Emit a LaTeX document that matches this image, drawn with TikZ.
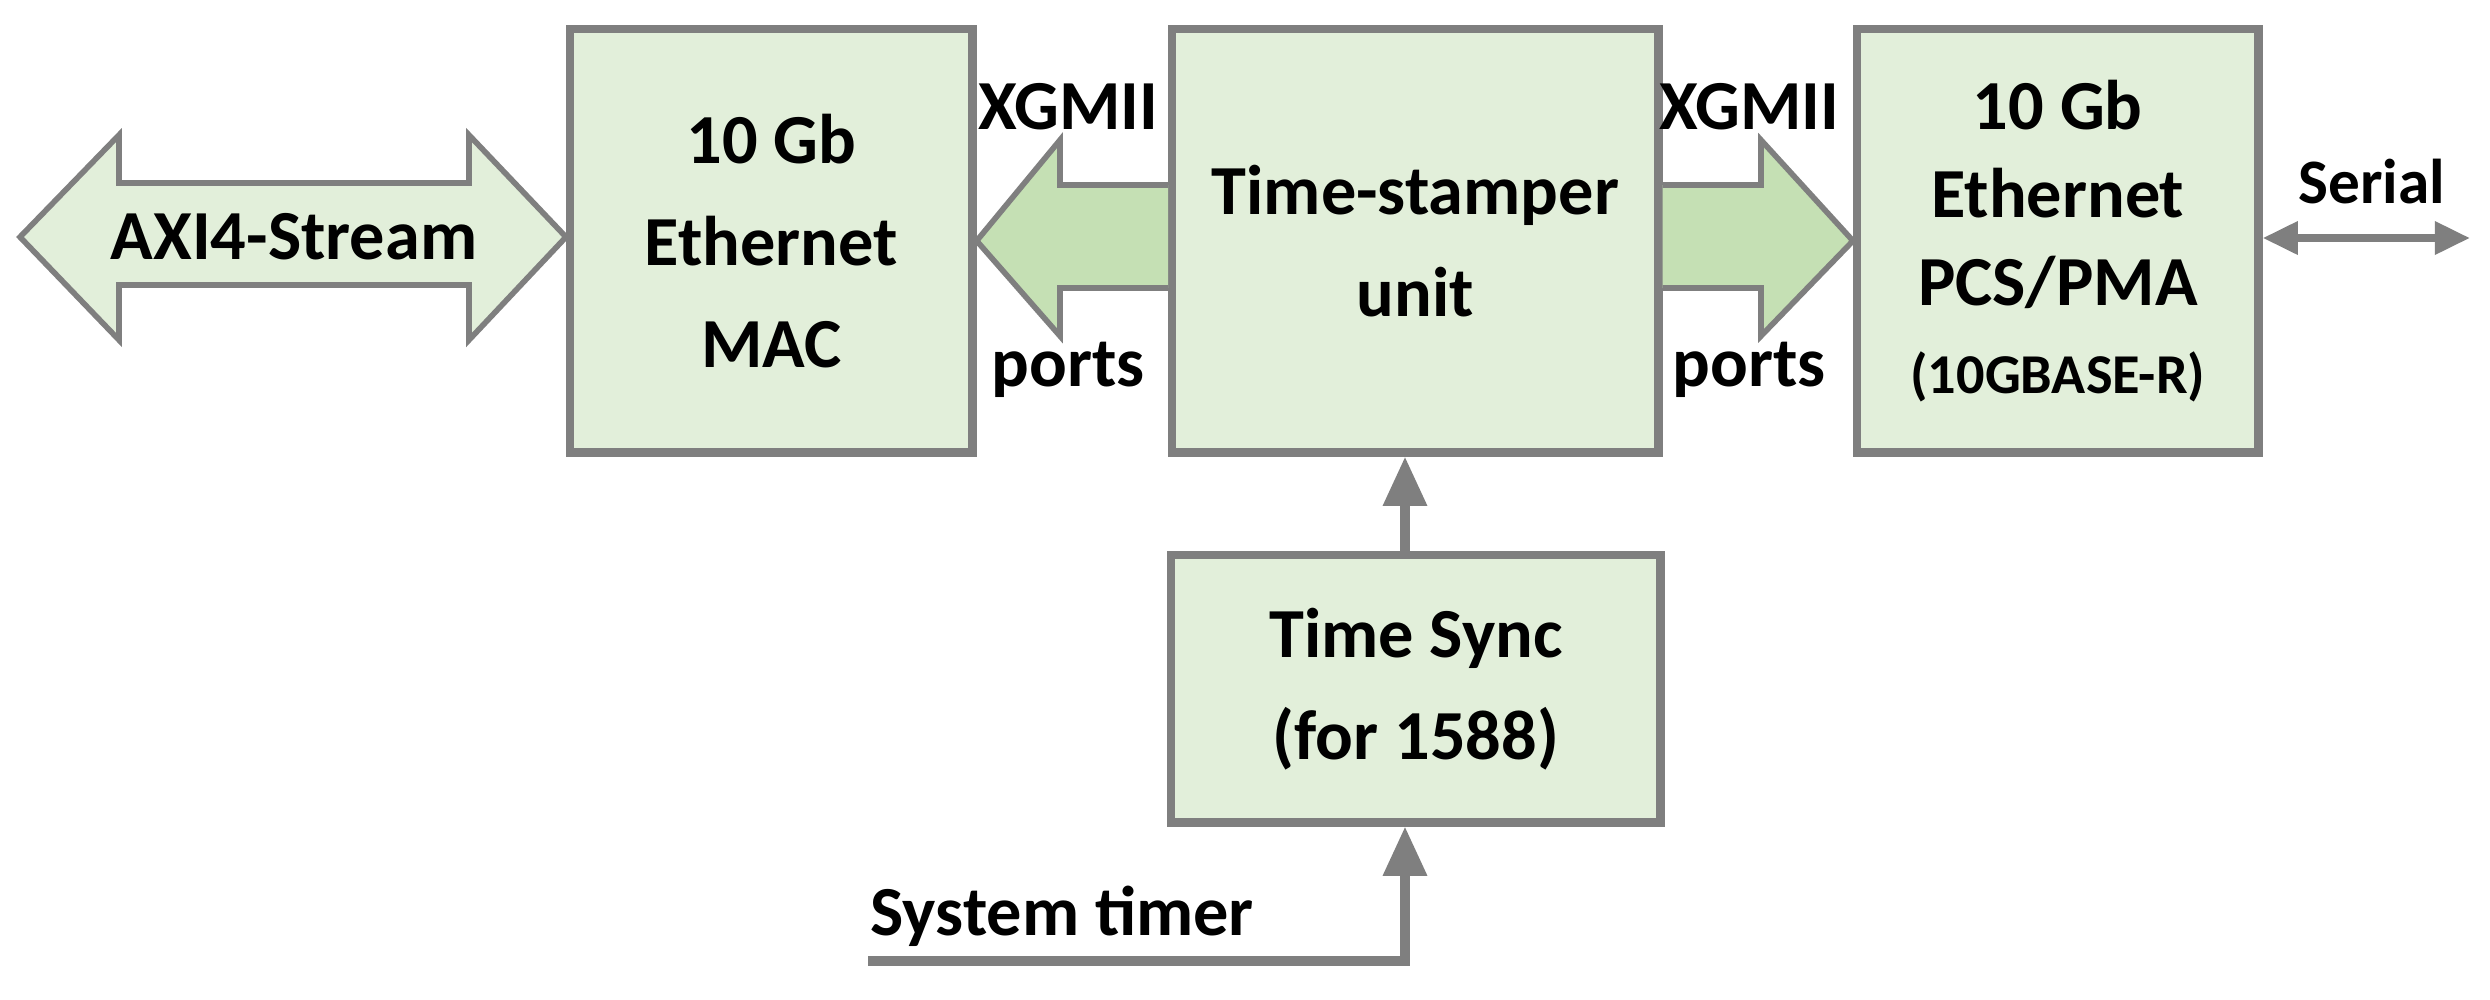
\documentclass[tikz,border=0pt]{standalone}
\usepackage{fontspec}
\setmainfont{Carlito}
\usetikzlibrary{arrows.meta}
\definecolor{boxfill}{HTML}{E2EFDA}
\definecolor{arrfill}{HTML}{C5E0B4}
\definecolor{edge}{HTML}{7F7F7F}
\tikzset{
  blk/.style={draw=edge, line width=2.4pt, fill=boxfill, align=center, font=\fontsize{20}{29}\selectfont\bfseries, anchor=north west, inner sep=0pt},
  fat/.style={draw=edge, line width=1.6pt, line join=miter},
  lbl/.style={font=\fontsize{20}{22}\selectfont\bfseries, inner sep=0pt},
  conn/.style={draw=edge, line width=2.6pt, -{Triangle[length=14pt,width=12pt]}},
}
\begin{document}
\begin{tikzpicture}[x=0.01cm,y=-0.01cm]
\useasboundingbox (0,0) rectangle (2490,999);
\coordinate (ya) at (0,185);
\coordinate (yb) at (0,288);
\coordinate (yc) at (0,238);
\coordinate (xs) at (1405,0);
% boxes
\node[blk, minimum width=40.2mm, minimum height=42.3mm] (mac) at (566,25) {10 Gb\\Ethernet\\MAC};
\node[blk, minimum width=48.6mm, minimum height=42.3mm] (tsu) at (1168,25) {Time-stamper\\unit};
\node[blk, minimum width=40.1mm, minimum height=42.3mm, font=\fontsize{20}{25}\selectfont\bfseries] (pcs) at (1853,25) {10 Gb\\Ethernet\\PCS/PMA\\{\fontsize{16}{18}\selectfont(10GBASE-R)}};
\node[blk, minimum width=48.9mm, minimum height=26.7mm] (sync) at (1167,551) {Time Sync\\(for 1588)};
% AXI double arrow
\draw[fat, fill=boxfill] (20,237) -- (119,135) -- (119,183) -- (469,183) -- (469,135) -- (566,237)
  -- (469,340) -- (469,285) -- (119,285) -- (119,340) -- cycle;
\node[lbl] (axi) at (294,237) {AXI4-Stream};
% left fat arrow (towards MAC)
\draw[fat, fill=arrfill] (tsu.west |- ya) -- (1060,185) -- (1060,140) -- (mac.east) -- (1060,336) -- (1060,288) -- (tsu.west |- yb);
% right fat arrow (towards PCS)
\draw[fat, fill=arrfill] (tsu.east |- ya) -- (1761,185) -- (1761,140) -- (pcs.west) -- (1761,336) -- (1761,288) -- (tsu.east |- yb);
\node[lbl] (x1) at (1068,107) {XGMII};
\node[lbl] (p1) at (1068,370) {ports};
\node[lbl] (x2) at (1749,107) {XGMII};
\node[lbl] (p2) at (1749,370) {ports};
% serial
\coordinate (ser) at (2470,238);
\draw[draw=edge, line width=2.2pt, {Triangle[length=10pt,width=9pt]}-{Triangle[length=10pt,width=9pt]}] (pcs.east |- yc) -- (ser);
\node[lbl, font=\fontsize{18}{20}\selectfont\bfseries] (serl) at (2372,182) {Serial};
% sync to tsu
\draw[conn] (sync.north -| xs) -- (tsu.south -| xs);
% system timer
\coordinate (st) at (868,961);
\draw[draw=edge, line width=2.6pt, line join=miter, -{Triangle[length=14pt,width=12pt]}] (st) -- (1405,961) -- (sync.south -| xs);
\node[lbl, anchor=west] (stl) at (870,916) {System timer};
\end{tikzpicture}
\end{document}
